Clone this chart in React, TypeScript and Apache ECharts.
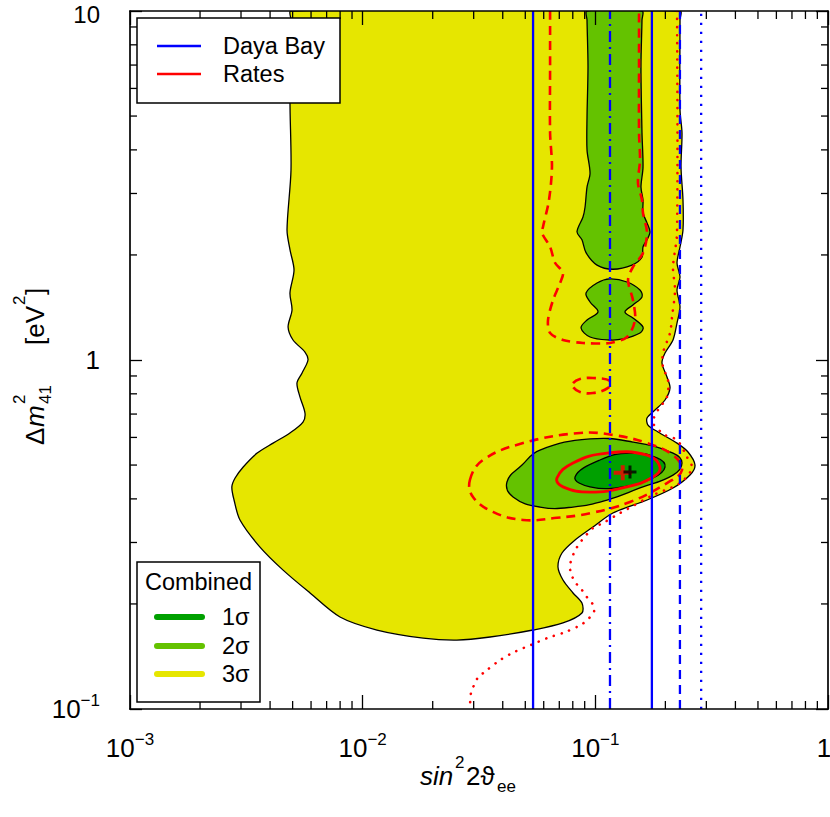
import React, { useEffect, useRef } from 'react';
import * as echarts from 'echarts';

const FONT = '"Liberation Sans", "DejaVu Sans", Arial, sans-serif';

// ---- axis ticks / labels ----
const xMajorTicks = [0.001, 0.01, 0.1, 1];
const xTickBase = ['10', '10', '10', '1'];
const xTickExp = ['−3', '−2', '−1', ''];
const yMajorTicks = [0.1, 1, 10];
const yTickBase = ['10', '1', '10'];
const yTickExp = ['−1', '', ''];
const minorMantissas = [2, 3, 4, 5, 6, 7, 8, 9];

// ---- Daya Bay exclusion limits (sin^2 2theta) ----
const dayaBaySolidLow = 0.054;
const dayaBaySolidHigh = 0.175;
const dayaBayDashDot = 0.1156;
const dayaBayDashed = 0.231;
const dayaBayDotted = 0.285;

// ---- Combined contours [sin^2 2theta, dm2] ----
const combined3Sigma = [
  [0.00492, 10], [0.00492, 9.42], [0.00487, 5.56], [0.00492, 3.5], [0.00473, 2.36], [0.00487, 2.07],
  [0.00507, 1.81], [0.00487, 1.556], [0.00497, 1.391], [0.00478, 1.243], [0.00502, 1.141], [0.00565, 1.054],
  [0.00582, 1.0], [0.00549, 0.918], [0.00522, 0.859], [0.00538, 0.783], [0.00565, 0.705], [0.00554, 0.664],
  [0.00487, 0.618], [0.00412, 0.578], [0.00352, 0.541], [0.00306, 0.493], [0.00283, 0.459], [0.00274, 0.433],
  [0.0028, 0.397], [0.00297, 0.348], [0.00362, 0.291], [0.00455, 0.25], [0.00594, 0.215], [0.00799, 0.1835],
  [0.01152, 0.1684], [0.0182, 0.1597], [0.0254, 0.1576], [0.0353, 0.1608], [0.054, 0.1684], [0.0726, 0.1764],
  [0.0876, 0.1884], [0.0876, 0.2012], [0.0802, 0.215], [0.0726, 0.2342], [0.0691, 0.2552], [0.0719, 0.2799],
  [0.0818, 0.3049], [0.0977, 0.3323], [0.119, 0.3644], [0.1668, 0.397], [0.2157, 0.4297], [0.2552, 0.4683],
  [0.2681, 0.5], [0.2502, 0.545], [0.2244, 0.578], [0.1859, 0.622], [0.1684, 0.651], [0.1668, 0.682],
  [0.1805, 0.719], [0.1993, 0.768], [0.2094, 0.832], [0.2032, 0.894], [0.1934, 0.98], [0.1993, 1.047],
  [0.2157, 1.141], [0.2244, 1.276], [0.2312, 1.419], [0.2244, 1.587], [0.2312, 1.729], [0.2244, 1.896],
  [0.2312, 2.108], [0.2381, 2.358], [0.2381, 2.874], [0.2335, 3.573], [0.2358, 4.472], [0.2312, 5.2],
  [0.2312, 9.42], [0.2312, 10],
];
const combined2SigmaBand = [
  [0.0921, 10], [0.0921, 9.42], [0.093, 6.91], [0.0921, 4.97], [0.0921, 4.0], [0.0949, 3.43], [0.0921, 3.13],
  [0.0903, 2.74], [0.0885, 2.57], [0.0834, 2.33], [0.0876, 2.21], [0.0912, 2.03], [0.1017, 1.87], [0.1191, 1.82],
  [0.1437, 1.87], [0.1587, 1.97], [0.1603, 2.11], [0.1668, 2.21], [0.1718, 2.33], [0.1668, 2.47], [0.1603, 2.64],
  [0.1603, 2.87], [0.1571, 3.13], [0.1603, 3.57], [0.1587, 4.47], [0.1571, 6.91], [0.1587, 9.42], [0.1587, 10],
];
const combined2SigmaLobe = [
  [0.1156, 1.707], [0.1368, 1.673], [0.1556, 1.587], [0.1587, 1.516], [0.1451, 1.438], [0.1341, 1.373],
  [0.1451, 1.319], [0.1603, 1.243], [0.1556, 1.195], [0.1315, 1.149], [0.1156, 1.141], [0.0949, 1.164],
  [0.0868, 1.235], [0.0921, 1.302], [0.1027, 1.373], [0.0949, 1.466], [0.0912, 1.556], [0.1017, 1.662],
];
const combined2SigmaIsland = [
  [0.0417, 0.447], [0.0484, 0.5], [0.0578, 0.552], [0.0949, 0.594], [0.1451, 0.582], [0.2157, 0.541],
  [0.2358, 0.507], [0.2157, 0.468], [0.1556, 0.43], [0.1122, 0.397], [0.0802, 0.379], [0.0578, 0.379],
  [0.0443, 0.405],
];
const combined1Sigma = [
  [0.0818, 0.462], [0.1047, 0.517], [0.1409, 0.541], [0.1842, 0.524], [0.1993, 0.493], [0.177, 0.459],
  [0.1315, 0.433], [0.0949, 0.433],
];

// ---- Rates contours ----
const rates1Sigma = [
  [0.0684, 0.459], [0.0802, 0.507], [0.1122, 0.541], [0.1668, 0.534], [0.1896, 0.493], [0.177, 0.462],
  [0.1368, 0.433], [0.0949, 0.4185], [0.0726, 0.433],
];
const rates2SigmaIsland = [
  [0.0289, 0.453], [0.0329, 0.517], [0.0489, 0.578], [0.0859, 0.618], [0.1191, 0.61], [0.1668, 0.578],
  [0.2157, 0.534], [0.2358, 0.484], [0.2032, 0.444], [0.1409, 0.392], [0.0949, 0.364], [0.0684, 0.353],
  [0.0489, 0.348], [0.0363, 0.367], [0.0298, 0.405],
];
const rates2SigmaSmall = [
  [0.0802, 0.859], [0.0859, 0.882], [0.0977, 0.888], [0.1156, 0.871], [0.1134, 0.832], [0.0977, 0.804],
  [0.0859, 0.81], [0.0802, 0.837],
];
const rates2SigmaUpper = [
  [0.0639, 10], [0.0639, 6.91], [0.0639, 4.47], [0.0651, 3.57], [0.0632, 2.87], [0.0596, 2.41], [0.059, 2.31],
  [0.0639, 2.11], [0.0671, 1.9], [0.0726, 1.78], [0.0705, 1.66], [0.0658, 1.485], [0.0626, 1.3], [0.0639, 1.195],
  [0.0726, 1.141], [0.0885, 1.119], [0.1156, 1.119], [0.1368, 1.164], [0.1481, 1.302], [0.1451, 1.485],
  [0.1382, 1.695], [0.1451, 1.847], [0.1603, 2.026], [0.1668, 2.311], [0.1603, 2.638], [0.1587, 2.874],
  [0.1525, 3.215], [0.1556, 3.742], [0.1541, 4.47], [0.1541, 6.91], [0.1541, 10],
];
const rates3Sigma = [
  [0.2244, 10], [0.2244, 2.31], [0.2157, 1.847], [0.22, 1.587], [0.2136, 1.328], [0.2094, 1.195],
  [0.1953, 1.047], [0.1953, 0.955], [0.2053, 0.876], [0.2032, 0.783], [0.1859, 0.719], [0.177, 0.66],
  [0.1993, 0.61], [0.2244, 0.59], [0.2477, 0.527], [0.2603, 0.49], [0.2312, 0.444], [0.177, 0.41],
  [0.1276, 0.364], [0.1079, 0.341], [0.0977, 0.33], [0.0834, 0.291], [0.0778, 0.259], [0.0786, 0.245],
  [0.0818, 0.231], [0.0868, 0.221], [0.0921, 0.209], [0.0977, 0.199], [0.0987, 0.19], [0.0939, 0.182],
  [0.0876, 0.175], [0.0741, 0.166], [0.0626, 0.16], [0.0534, 0.153], [0.0452, 0.146], [0.0389, 0.138],
  [0.0336, 0.128], [0.0313, 0.123], [0.0301, 0.117], [0.0292, 0.111], [0.0289, 0.1],
];
const bestFitRates = [0.1311, 0.4755];
const bestFitCombined = [0.1409, 0.4777];

const COL3 = '#e6e600';
const COL2 = '#64c200';
const COL1 = '#00a000';
const RED = '#ff0000';
const BLUE = '#0000ff';

function areaSeries(pts: number[][], fill: string, z: number, smooth: number) {
  return {
    type: 'custom', coordinateSystem: 'cartesian2d', clip: true, silent: true, z,
    data: pts,
    renderItem: (params: any, api: any) => {
      if (params.dataIndex !== 0) return null;
      const p = pts.map((d) => api.coord(d));
      return { type: 'polygon', shape: { points: p, smooth }, style: { fill, stroke: '#000', lineWidth: 1.3 } };
    },
  };
}
function curveSeries(pts: number[][], closed: boolean, stroke: string, width: number, dash: number[] | null, z: number, smooth: number) {
  return {
    type: 'custom', coordinateSystem: 'cartesian2d', clip: true, silent: true, z,
    data: pts,
    renderItem: (params: any, api: any) => {
      if (params.dataIndex !== 0) return null;
      const p = pts.map((d) => api.coord(d));
      return {
        type: closed ? 'polygon' : 'polyline',
        shape: { points: p, smooth },
        style: { fill: null, stroke, lineWidth: width, lineDash: dash || undefined, lineCap: dash && dash[0] < 1 ? 'round' : 'butt' },
      };
    },
  };
}
function vline(x: number, type: any) {
  return {
    type: 'line', silent: true, z: 6, symbol: 'none',
    data: [[x, 0.1], [x, 10]],
    lineStyle: { color: BLUE, width: 2.3, type },
  };
}

const decades = [0.001, 0.01, 0.1];
const xMinor = decades.flatMap((d) => minorMantissas.map((m) => m * d));
const yMinor = [0.1, 1].flatMap((d) => minorMantissas.map((m) => m * d));

function tickIndex(ticks: number[], v: number) {
  return ticks.findIndex((t) => Math.abs(Math.log10(t) - Math.log10(v)) < 1e-6);
}
const richLabel = {
  b: { fontSize: 26, fontFamily: FONT, color: '#000', lineHeight: 34 },
  s: { fontSize: 17, fontFamily: FONT, color: '#000', lineHeight: 17, verticalAlign: 'top' },
  r: { fontSize: 26, fontFamily: FONT, color: '#000', lineHeight: 34, padding: [0, 8, 0, 0] },
  t: { fontSize: 24, fontFamily: FONT, color: '#000', lineHeight: 16, padding: [6, 0, 0, 0] },
};

export default function App() {
  const ref = useRef<HTMLDivElement>(null);
  useEffect(() => {
    document.body.style.margin = '0';
    const chart = echarts.init(ref.current!, null, { renderer: 'svg' });
    const axisLine = { show: true, onZero: false, lineStyle: { color: '#000', width: 1.7 } };
    const txt = (text: string, x: number, y: number, size: number, extra: any = {}) => ({
      type: 'text', x, y, z: 100,
      style: { text, font: `${extra.italic ? 'italic ' : ''}${size}px ${FONT}`, fill: '#000', align: extra.align || 'left', verticalAlign: 'middle' },
    });
    const legendLine = (x1: number, x2: number, y: number, color: string, w: number) => ({
      type: 'line', z: 100, shape: { x1, y1: y, x2, y2: y }, style: { stroke: color, lineWidth: w, lineCap: w > 3 ? 'round' : 'butt' },
    });
    const option: any = {
      animation: false,
      grid: { left: 130, right: 2, top: 11, bottom: 108, outerBoundsMode: 'none', containLabel: false },
      xAxis: [
        {
          type: 'log', logBase: 10, min: 0.001, max: 1, position: 'bottom', z: 10,
          axisLine, splitLine: { show: false },
          axisTick: { show: true, inside: true, length: 14, lineStyle: { color: '#000', width: 1.3 } },
          axisLabel: {
            show: true, margin: 22, showMinLabel: true, showMaxLabel: true, hideOverlap: false, rich: richLabel,
            formatter: (v: number) => {
              const i = tickIndex(xMajorTicks, v);
              if (i < 0) return '';
              if (i === xMajorTicks.length - 1) return `{r|${xTickBase[i]}}`;
              return xTickExp[i] ? `{b|${xTickBase[i]}}{s|${xTickExp[i]}}` : `{b|${xTickBase[i]}}`;
            },
          },
        },
        {
          type: 'log', logBase: 10, min: 0.001, max: 1, position: 'top', z: 10,
          axisLine, splitLine: { show: false }, axisLabel: { show: false },
          axisTick: { show: true, inside: true, length: 14, lineStyle: { color: '#000', width: 1.3 } },
        },
      ],
      yAxis: [
        {
          type: 'log', logBase: 10, min: 0.1, max: 10, position: 'left', z: 10,
          axisLine, splitLine: { show: false },
          axisTick: { show: true, inside: true, length: 12, lineStyle: { color: '#000', width: 1.3 } },
          axisLabel: {
            show: true, margin: 30, showMinLabel: true, showMaxLabel: true, hideOverlap: false, rich: richLabel,
            formatter: (v: number) => {
              const i = tickIndex(yMajorTicks, v);
              if (i < 0) return '';
              if (i === yMajorTicks.length - 1) return `{t|${yTickBase[i]}}`;
              return yTickExp[i] ? `{b|${yTickBase[i]}}{s|${yTickExp[i]}}` : `{b|${yTickBase[i]}}`;
            },
          },
        },
        {
          type: 'log', logBase: 10, min: 0.1, max: 10, position: 'right', z: 10,
          axisLine, splitLine: { show: false }, axisLabel: { show: false },
          axisTick: { show: true, inside: true, length: 12, lineStyle: { color: '#000', width: 1.3 } },
        },
      ],
      series: [
        areaSeries(combined3Sigma, COL3, 2, 0.3),
        areaSeries(combined2SigmaBand, COL2, 3, 0.3),
        areaSeries(combined2SigmaLobe, COL2, 3, 0.35),
        areaSeries(combined2SigmaIsland, COL2, 3, 0.45),
        areaSeries(combined1Sigma, COL1, 4, 0.45),
        curveSeries(rates1Sigma, true, RED, 2.8, null, 5, 0.45),
        curveSeries(rates2SigmaIsland, true, RED, 2.6, [9, 6], 5, 0.4),
        curveSeries(rates2SigmaSmall, true, RED, 2.6, [9, 6], 5, 0.4),
        curveSeries(rates2SigmaUpper, false, RED, 2.6, [9, 6], 5, 0.3),
        curveSeries(rates3Sigma, false, RED, 2.6, [0.1, 8], 5, 0.3),
        vline(dayaBaySolidLow, 'solid'),
        vline(dayaBaySolidHigh, 'solid'),
        vline(dayaBayDashDot, [11, 5, 2, 5]),
        vline(dayaBayDashed, [9, 6]),
        vline(dayaBayDotted, [2.3, 6.7]),
        {
          type: 'scatter', silent: true, z: 7, data: [bestFitRates],
          symbol: 'path://M0,5.5H7V0H11V5.5H18V9.5H11V15H7V9.5H0Z', symbolSize: [18, 15],
          itemStyle: { color: RED },
        },
        {
          type: 'scatter', silent: true, z: 8, data: [bestFitCombined],
          symbol: 'path://M0,5H5V0H8V5H13V8H8V13H5V8H0Z', symbolSize: [13, 13],
          itemStyle: { color: '#000' },
        },
        {
          type: 'custom', coordinateSystem: 'cartesian2d', clip: false, silent: true, z: 9,
          data: xMinor.map((v) => [v, 1]),
          renderItem: (params: any, api: any) => {
            const v = api.value(0);
            const b = api.coord([v, 0.1]);
            const t = api.coord([v, 10]);
            const st = { stroke: '#000', lineWidth: 1.3 };
            return {
              type: 'group', children: [
                { type: 'line', shape: { x1: b[0], y1: b[1], x2: b[0], y2: b[1] - 8 }, style: st },
                { type: 'line', shape: { x1: t[0], y1: t[1], x2: t[0], y2: t[1] + 8 }, style: st },
              ],
            };
          },
        },
        {
          type: 'custom', coordinateSystem: 'cartesian2d', clip: false, silent: true, z: 9,
          data: yMinor.map((v) => [0.03, v]),
          renderItem: (params: any, api: any) => {
            const v = api.value(1);
            const l = api.coord([0.001, v]);
            const r = api.coord([1, v]);
            const st = { stroke: '#000', lineWidth: 1.3 };
            return {
              type: 'group', children: [
                { type: 'line', shape: { x1: l[0], y1: l[1], x2: l[0] + 7, y2: l[1] }, style: st },
                { type: 'line', shape: { x1: r[0], y1: r[1], x2: r[0] - 7, y2: r[1] }, style: st },
              ],
            };
          },
        },
      ],
      graphic: [
        // top-left legend
        { type: 'rect', z: 99, shape: { x: 137, y: 18, width: 203, height: 85 }, style: { fill: '#fff', stroke: '#000', lineWidth: 1.5 } },
        legendLine(157, 201, 46, BLUE, 2.3),
        legendLine(157, 201, 74, RED, 2.3),
        txt('Daya Bay', 223, 46, 23.5),
        txt('Rates', 223, 74, 23.5),
        // bottom-left legend
        { type: 'rect', z: 99, shape: { x: 137, y: 562, width: 123, height: 140 }, style: { fill: '#fff', stroke: '#000', lineWidth: 1.5 } },
        txt('Combined', 198.5, 582, 23.5, { align: 'center' }),
        legendLine(157, 202, 617, COL1, 6),
        legendLine(157, 202, 646, COL2, 6),
        legendLine(157, 202, 674, COL3, 6),
        txt('1σ', 222, 617, 23.5),
        txt('2σ', 222, 646, 23.5),
        txt('3σ', 222, 674, 23.5),
        // x axis name
        txt('sin', 420, 776, 26, { italic: true }),
        txt('2', 455, 762, 17),
        txt('2ϑ', 466, 776, 26),
        txt('ee', 497, 786, 17),
        // y axis name
        {
          type: 'group', x: 30, y: 360, rotation: Math.PI / 2, z: 100,
          children: [
            txt('Δ', -85, 5, 26),
            txt('m', -67, 5, 26, { italic: true }),
            txt('2', -44, -11, 17),
            txt('41', -44, 15, 17),
            txt('[eV', 15, 5, 26),
            txt('2', 55, -11, 17),
            txt(']', 65, 5, 26),
          ],
        },
      ],
    };
    chart.setOption(option);
    return () => chart.dispose();
  }, []);
  return <div ref={ref} style={{ position: 'fixed', left: 0, top: 0, width: 830, height: 817, background: '#fff' }} />;
}
